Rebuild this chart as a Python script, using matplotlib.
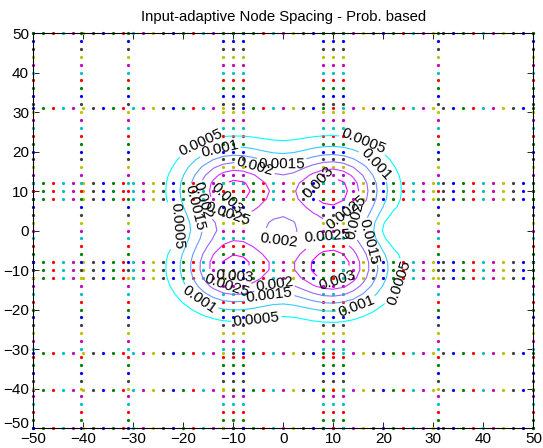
import numpy as np
import matplotlib.pyplot as plt
from matplotlib.transforms import ScaledTranslation

plt.rcParams['font.family'] = ['Liberation Sans', 'DejaVu Sans']

#--DATA--#
# node lines of the adaptive grid
x_nodes = [-50, -40.5, -31, -12, -10, -8, 8, 10, 12, 31, 50]
y_nodes = [-50, -40.5, -31, -12, -10, -8, 8, 10, 12, 31, 50]
# uniform sample positions along every node line (also the density grid)
line_samples = np.arange(-50, 51, 2)
# matlab colour order, cycles along the samples
dot_colors = ['#0000ff', '#008000', '#ff0000', '#00bfbf', '#bf00bf', '#bfbf00', '#404040']

# density: four bumps near (+-10, +-10), a small lift in the middle, two dents at the sides
peak_x = [-10, 10, -10, 10]
peak_y = [10.5, 10.5, -9.5, -9.5]
peak_amp = [0.0031, 0.0032, 0.0031, 0.0033]
peak_sigma = 7.0
mid_xy = (0, 1)
mid_amp = 0.00025
mid_sigma = 4.0
dent_x = [-23, 22]
dent_amp = [-0.0002, -0.0005]
dent_sigma = 3.0

levels = [0.0005, 0.001, 0.0015, 0.002, 0.0025, 0.003]
# where the contour labels sit
label_pos = {
    0.0005: [(-16.5, 21.9), (-23, 0.9), (-5.3, -23.2), (22.5, -13), (16, 22.4)],
    0.001: [(-12.7, 20.6), (-17, -17.8), (14.5, -18.7), (18.3, 16.6)],
    0.0015: [(-0.3, 17.3), (-17.7, 5.7), (-2.7, -16.8), (17.3, -2.7)],
    0.002: [(-5.7, 16.1), (-16, 7.7), (-0.9, -2.9), (-1.7, -14.6), (15, 2.2)],
    0.0025: [(-11, 4.4), (9, -2.9), (12.3, 4.9), (-11.3, -13.8)],
    0.003: [(-11.7, 7.7), (7, 12), (-9.7, -11.8), (10.5, -11.5)],
}
#----#


def density(X, Y):
    '''
    Sum of the bumps on the grid.
    '''
    Z = np.zeros_like(X, dtype=float)
    for px, py, a in zip(peak_x, peak_y, peak_amp):
        Z += a * np.exp(-((X - px)**2 + (Y - py)**2) / (2 * peak_sigma**2))
    Z += mid_amp * np.exp(-((X - mid_xy[0])**2 + (Y - mid_xy[1])**2) / (2 * mid_sigma**2))
    for dx, a in zip(dent_x, dent_amp):
        Z += a * np.exp(-((X - dx)**2 + Y**2) / (2 * dent_sigma**2))
    return Z


fig = plt.figure(figsize=(5.43, 4.48), dpi=100)
ax = fig.add_axes([0.0613, 0.0446, 0.921, 0.8817])
ax.set_xlim(-50, 50)
ax.set_ylim(-50, 50)

# dots along the node lines
for j, s in enumerate(line_samples):
    c = dot_colors[j % len(dot_colors)]
    ax.plot(x_nodes, [s] * len(x_nodes), 'o', color=c, ms=2.3, mew=0, clip_on=False, zorder=2)
    ax.plot([s] * len(y_nodes), y_nodes, 'o', color=c, ms=2.3, mew=0, clip_on=False, zorder=2)

X, Y = np.meshgrid(line_samples, line_samples)
Z = density(X, Y)
cmap = plt.get_cmap('cool')
for i, lev in enumerate(levels):
    col = cmap(i / (len(levels) - 1))
    cs = ax.contour(X, Y, Z, levels=[lev], colors=[col], linewidths=0.8, zorder=3)
    ax.clabel(cs, manual=label_pos[lev], inline=True, inline_spacing=2,
              fmt='%g', fontsize=11, colors='k')

ax.set_xticks(range(-50, 51, 10))
ax.set_yticks(range(-50, 51, 10))
ax.tick_params(direction='in', top=True, right=True, length=4, width=0.6, labelsize=11, pad=3)
# lift the lowest y label a bit so it clears the first x label
lab = ax.yaxis.get_major_ticks()[0].label1
lab.set_transform(lab.get_transform() + ScaledTranslation(0, 4 / 72, fig.dpi_scale_trans))
for sp in ax.spines.values():
    sp.set_linewidth(0.8)
ax.set_title('Input-adaptive Node Spacing - Prob. based', fontsize=10.7, pad=9)

fig.savefig('out.png', dpi=100)
